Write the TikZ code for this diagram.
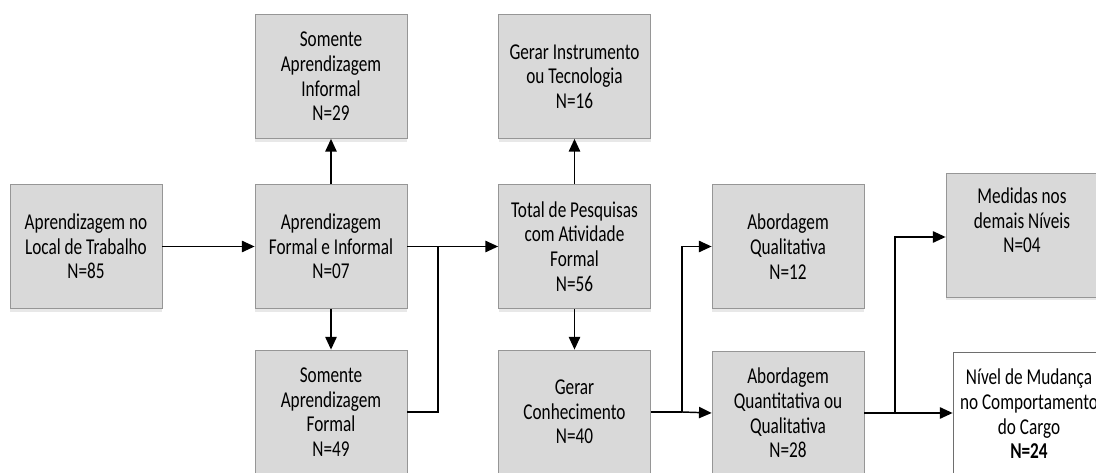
\documentclass[tikz,border=0pt]{standalone}
\usepackage{fontspec}
\setmainfont{Carlito}[FakeStretch=0.76]
\usetikzlibrary{arrows.meta,shadows}
\definecolor{boxfill}{RGB}{217,217,217}
\definecolor{boxline}{RGB}{150,150,150}
\tikzset{
	caixa/.style={draw=boxline, fill=boxfill, line width=0.6pt, minimum width=114pt, minimum height=93pt, align=center, inner sep=2pt, font=\fontsize{17}{18.5}\selectfont, drop shadow={opacity=0.18, shadow xshift=0pt, shadow yshift=-2.5pt}},
	caixabranca/.style={caixa, fill=white, draw={rgb,255:red,110;green,110;blue,110}},
	seta/.style={line width=1.1pt, -{Triangle[length=9.5pt,width=8.5pt]}},
	linha/.style={line width=1.1pt}
}
\begin{document}
\begin{tikzpicture}[x=0.75pt,y=0.75pt,yscale=-1,xscale=1]
		\useasboundingbox (0,0) rectangle (1096,473);
		
		% Boxes, first column
		\draw (86,246.5) node [caixa] (local) {Aprendizagem no\\Local de Trabalho\\N=85};
		% second column
		\draw (331,76.5) node [caixa] (informal) {Somente\\Aprendizagem\\Informal\\N=29};
		\draw (331,246.5) node [caixa] (ambas) {Aprendizagem\\Formal e Informal\\N=07};
		\draw (331,412) node [caixa] (formal) {Somente\\Aprendizagem\\Formal\\N=49};
		% third column
		\draw (574.5,76.5) node [caixa] (instrumento) {Gerar Instrumento\\ou Tecnologia\\N=16};
		\draw (574.5,246.5) node [caixa] (total) {Total de Pesquisas\\com Atividade\\Formal\\N=56};
		\draw (574.5,412) node [caixa] (conhecimento) {Gerar\\Conhecimento\\N=40};
		% fourth column
		\draw (788,246.5) node [caixa] (qualitativa) {Abordagem\\Qualitativa\\N=12};
		\draw (788,413) node [caixa] (quantitativa) {Abordagem\\Quantitativa ou\\Qualitativa\\N=28};
		% fifth column
		\draw (1022,235) node [caixa, text depth=22pt] (medidas) {Medidas nos\\demais Níveis\\N=04};
		\draw (1029,414) node [caixabranca] (nivel) {Nível de Mudança\\no Comportamento\\do Cargo\\\textbf{N=24}};
		
		% Junctions
		\coordinate (j1) at (438,246.5);
		\coordinate (j2) at (682,412);
		\coordinate (j3) at (895,413);
		
		% Connectors
		\draw [seta] (local) -- (ambas);
		\draw [seta] (ambas) -- (informal);
		\draw [seta] (ambas) -- (formal);
		\draw [seta] (ambas) -- (total);
		\draw [linha] (formal.east) -| (j1);
		\draw [seta] (total) -- (instrumento);
		\draw [seta] (total) -- (conhecimento);
		\draw [linha] (conhecimento.east) -- (j2);
		\draw [seta] (j2) |- (qualitativa.west);
		\draw [seta] (j2) -- (quantitativa.west);
		\draw [linha] (quantitativa.east) -- (j3);
		\draw [seta] (j3) |- (medidas.west |- 0,237);
		\draw [seta] (j3) -- (nivel.west |- j3);
	\end{tikzpicture}
\end{document}
